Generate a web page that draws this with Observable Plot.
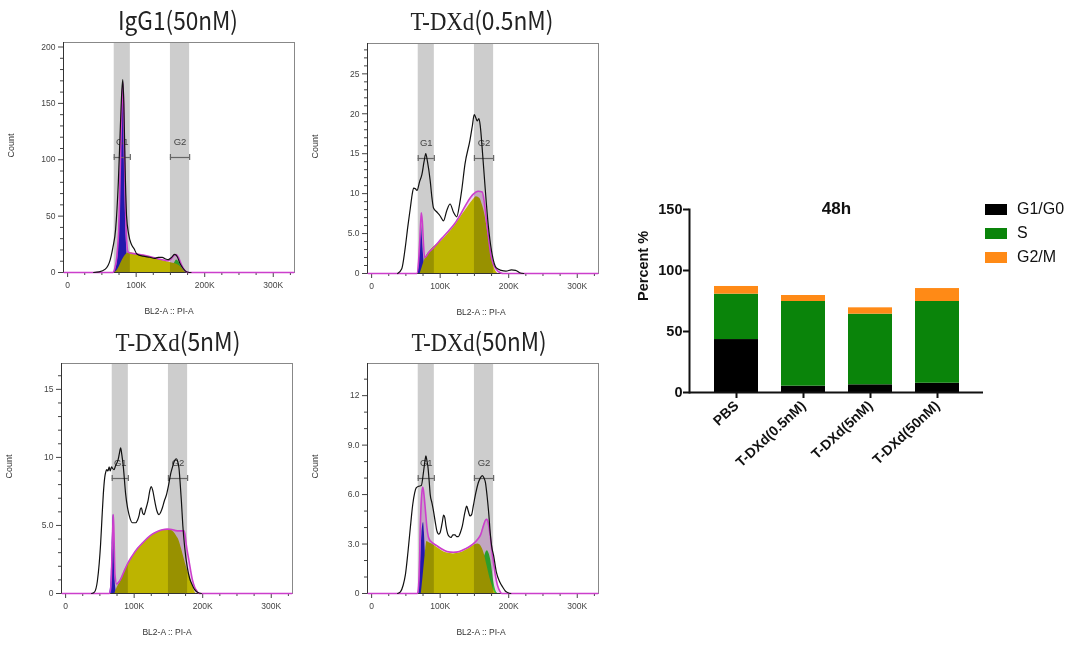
<!DOCTYPE html>
<html><head><meta charset="utf-8">
<script src="https://cdn.jsdelivr.net/npm/d3@7"></script>
<script src="https://cdn.jsdelivr.net/npm/@observablehq/plot@0.6"></script>
<style>
body{margin:0;background:#fff;}
#root{position:relative;width:1080px;height:646px;overflow:hidden;background:#fff;}
#root > svg, #root > div{position:absolute;}
.leg{font-family:'Liberation Sans',Arial,sans-serif;font-size:16px;color:#111;display:flex;align-items:center;height:20px;}
.leg span.sw{display:inline-block;width:22px;height:11px;margin-right:10px;}
</style></head><body><div id="root"></div>
<script>
// ---------------- Histogram data (x in thousands, y = count) ----------------
const xTicksMajor = [0, 100, 200, 300];
const xTickLabels = ["0", "100K", "200K", "300K"];
const xTicksMinor = [25, 50, 75, 125, 150, 175, 225, 250, 275, 325];
const gateNames = ["G1", "G2"];
const gateLo = [68, 150];
const gateHi = [91.5, 178];

// IgG1 (50nM)
const igg1Total = [[38,0],[46,0.5],[55,3],[62,11],[66,22],[70,38],[74,80],[77,130],[79,160],[80.5,171],[82,150],[84,90],[86,50],[89,34],[93,25],[97,21],[101,16.5],[110,14.5],[120,13.5],[127,12.5],[132,13.5],[138,13.5],[143,12],[147,11.5],[151,13],[156,16],[160,14],[164,8],[168,4],[172,1.2],[176,0.2],[180,0]];
const igg1Fit = [[-5,0],[66,0],[69,4],[72,15],[75,45],[77.5,110],[79.5,155],[80.8,168],[82,140],[83.5,85],[85,45],[86.5,25],[88,18.5],[90,17.5],[100,16.5],[110,15.5],[121,14],[133,12],[145,10.5],[150,11.5],[155,15],[158,16],[162,13],[166,7],[170,2.5],[174,0.5],[178,0],[330,0]];
const igg1G1 = [[67,0],[70,3],[73,12],[75,35],[77.5,100],[79.5,150],[80.8,166],[82,135],[83.5,80],[85,40],[87,15],[89,5],[92,0]];
const igg1S = [[69,0],[72,1.5],[76,6],[80,11],[84,15],[88,17.2],[91,17.5],[100,16.5],[110,15.3],[121,13.5],[133,11.5],[145,9.5],[152,8.5],[160,7.2],[165,5],[169,2],[172,0.3],[174,0]];
const igg1G2 = [[146,0],[150,2],[154,6],[157,9.5],[159,11],[162,9.5],[165,6],[168,3],[171,1],[174,0]];

// T-DXd (0.5nM)
const t05Total = [[38,0],[44,0.6],[49,3.2],[53,6],[56.5,8.2],[59,9.8],[61.3,10.7],[64,10.6],[66.2,10.4],[70,11.5],[73.4,12.4],[76.5,14],[79,15],[81.5,14],[85.5,11.6],[88,9.5],[90.3,8.2],[95.2,7.7],[100,7.2],[104.8,6.6],[109.7,7.9],[114.5,8.7],[119.3,7.7],[124.2,7.1],[128,8.5],[131.4,10.4],[136.2,13.7],[143.5,16.7],[147,18.5],[149.7,19.9],[152,19.5],[154,19.1],[156.5,19.4],[158.5,18.5],[160.4,16.7],[165.2,11.2],[170,6.2],[175,2.8],[182,0.7],[189,0.4],[196,0.3],[204,0.45],[210,0.4],[216,0.1],[222,0]];
const t05Fit = [[-5,0],[66,0],[68.5,1.5],[70.5,4.5],[72.5,7.6],[74,6.5],[75.5,4],[77.3,2],[80,2.2],[83,2.6],[90,3.2],[102.4,4.4],[112,5.3],[121.7,6.3],[131,7.6],[141,9.1],[148,9.9],[155.5,10.3],[161.4,10.2],[164.5,8.8],[167.7,6.5],[171,4.2],[174,2.3],[178,1.1],[182.2,0.5],[188,0.1],[192,0],[330,0]];
const t05G1 = [[68,0],[69.5,1.5],[71,3.5],[72.5,6.2],[74,4.5],[75.8,2.2],[78,0.6],[80,0]];
const t05S = [[71,0],[74,0.8],[78.3,1.9],[85,2.8],[92,3.4],[102.4,4.1],[112,5.0],[121.7,6.0],[131,7.2],[141,8.4],[148,9.2],[153,9.6],[158,9.4],[161.5,8.6],[165.2,7.4],[170,4.9],[174,2.7],[177.3,1.2],[181,0.3],[184,0]];
const t05G2 = [];

// T-DXd (5nM)
const t5Total = [[38,0],[42,0.1],[46.3,0.9],[49,2.2],[51,3.6],[53,5.5],[55,7.3],[57,8.5],[58.4,8.9],[60,9.1],[61.8,9.0],[63.5,9.3],[65,9.0],[67,9.3],[68.5,9.2],[70.5,9.1],[73,9.4],[76.4,9.8],[78.5,10.3],[80.3,10.7],[82,10.2],[84.2,9.3],[87.6,7.3],[90,6.4],[92.5,5.8],[97.4,5.2],[102.2,5.2],[105,5.4],[107,5.7],[109,6.2],[110.5,6.3],[112.5,5.9],[114.4,5.8],[117,6.2],[120.2,6.8],[123,7.6],[125,7.85],[127,7.6],[130,6.8],[133,6.1],[136.3,5.8],[139,6.0],[141.2,6.3],[144,6.8],[147.4,7.3],[150,7.9],[153.3,8.8],[156,9.3],[158,9.65],[161.6,9.9],[163.5,9.7],[165.4,9.2],[167,8.2],[168.9,6.8],[171,5.0],[173.7,3.4],[177.6,1.9],[181,1.1],[185,0.6],[188,0.3],[192.3,0.1],[198,0]];
const t5Fit = [[-5,0],[64,0],[66,0.5],[67.5,2.5],[69,5.2],[69.6,5.8],[70.5,4.5],[72,1.4],[74.5,0.7],[77,0.8],[80.3,1.05],[85,1.6],[90,2.15],[97,2.75],[104.7,3.3],[112,3.7],[119.3,4.07],[126,4.35],[133.9,4.56],[141,4.68],[148.5,4.73],[155,4.7],[160.6,4.62],[166,4.6],[172.7,4.6],[174.5,4.2],[176,3.6],[180,2.4],[185,1.0],[188,0.5],[191.2,0.2],[195,0],[330,0]];
const t5G1 = [[64.5,0],[66.7,1.4],[68,3.5],[69.6,5.8],[70.5,4.2],[71.5,1.9],[73.4,0.3],[75,0]];
const t5S = [[72,0],[75,0.4],[80.3,0.9],[85,1.45],[90,2.0],[97,2.65],[104.7,3.2],[112,3.6],[119.3,4.0],[126,4.3],[133.9,4.5],[141,4.65],[148.5,4.7],[154,4.65],[158,4.5],[162,4.2],[165.4,3.9],[169,3.3],[172.7,2.6],[176,2.0],[180,1.4],[184,0.8],[187.3,0.25],[190,0]];
const t5G2 = [];

// T-DXd (50nM)
const t50Total = [[38,0],[42,0.1],[46,0.5],[49.3,1.14],[53,2.5],[56.5,4.0],[60,5.4],[62.8,6.1],[65,6.4],[68.6,6.5],[72.5,6.55],[75.8,7.4],[78,8.1],[79.2,8.35],[80.5,8.1],[82.1,7.7],[84,6.8],[85.5,6.0],[88,5.5],[90.3,5.0],[93,4.3],[95.2,3.8],[98,3.6],[100,3.7],[103,4.3],[105,4.75],[106.8,4.6],[108.5,4.1],[111.1,3.6],[113.5,3.45],[115.9,3.4],[118.5,3.55],[121.7,3.55],[124,3.45],[126.6,3.45],[129.5,3.7],[132.4,4.1],[136,4.9],[138.7,5.3],[141,5.0],[143.5,4.7],[146,4.8],[148.3,5.3],[152,6.1],[155.5,6.7],[158.5,7.0],[161.4,7.15],[164,7.0],[166.2,6.7],[168.5,5.9],[171,4.8],[173,3.7],[175,2.9],[178,2.3],[182,1.3],[187,0.7],[191.8,0.35],[195,0.15],[199,0.05],[203,0]];
const t50Fit = [[-5,0],[67,0],[68.6,0.5],[70,2],[71,4.0],[72.5,5.6],[74.4,6.45],[75.5,6.3],[77.3,5.6],[79,4.8],[80.7,4.0],[82.5,3.5],[84,3.3],[88,3.1],[95,2.9],[102.4,2.7],[110,2.55],[119.3,2.5],[128,2.55],[136.2,2.7],[143,2.85],[150.7,3.1],[155,3.3],[159.4,3.6],[163,4.1],[166.2,4.45],[168,4.5],[170,4.3],[172,3.8],[173.9,3.2],[176,2.4],[178.7,1.6],[181,1.0],[183.6,0.5],[187,0.15],[190,0],[330,0]];
const t50G1 = [[69,0],[71,1.5],[73.4,3.6],[75.8,4.3],[77,3.7],[78.3,2.5],[80.7,0.9],[82.5,0.3],[84,0]];
const t50S = [[72.5,0],[75,1.0],[77.3,2.0],[79,2.7],[80.7,3.15],[83,3.1],[88,3.0],[95,2.8],[102.4,2.6],[110,2.45],[119.3,2.4],[128,2.45],[136.2,2.6],[143,2.75],[150.7,2.95],[155,3.0],[158,2.95],[160.5,2.8],[162.8,2.6],[165,2.3],[167.7,1.8],[170,1.4],[172.5,0.95],[175,0.6],[178.7,0.15],[181,0]];
const t50G2 = [[150,0],[154,0.4],[158,1.2],[162,1.9],[165.2,2.3],[167.5,2.55],[169,2.6],[171,2.45],[173.9,2.0],[176,1.4],[178.7,0.6],[181,0.2],[184,0]];

// Panel titles and y-axis ticks
const titleSerif = ["", "T-DXd", "T-DXd", "T-DXd"];
const titleSans = ["IgG1(50nM)", "(0.5nM)", "(5nM)", "(50nM)"];
const yMaxes = [204, 28.8, 16.9, 13.95];
const yTicksList = [[0,50,100,150,200],[0,5,10,15,20,25],[0,5,10,15],[0,3,6,9,12]];
const yTickLabelsList = [["0","50","100","150","200"],["0","5.0","10","15","20","25"],["0","5.0","10","15"],["0","3.0","6.0","9.0","12"]];
const yMinorSteps = [10, 1, 1, 1];

// ---------------- Bar chart data ----------------
const categories = ["PBS", "T-DXd(0.5nM)", "T-DXd(5nM)", "T-DXd(50nM)"];
const phases = ["G1/G0", "S", "G2/M"];
const phaseColors = ["#000000", "#0a840a", "#ff8a16"];
const g1g0 = [43.4, 5.2, 6.3, 7.6];
const sPhase = [37.2, 69.4, 57.9, 67.0];
const g2m = [6.3, 4.9, 5.2, 10.6];

// ---------------- Layout ----------------
const root = document.getElementById("root");
const histPos = [[8,32],[312,33],[6,353],[312,353]];
const xLabelShift = [-10, -2, -10, -2];
const histSeries = [
  [igg1Total, igg1Fit, igg1G1, igg1S, igg1G2],
  [t05Total, t05Fit, t05G1, t05S, t05G2],
  [t5Total, t5Fit, t5G1, t5S, t5G2],
  [t50Total, t50Fit, t50G1, t50S, t50G2]
];
const gates = gateNames.map((n, i) => ({name: n, lo: gateLo[i], hi: gateHi[i]}));
const X = d => d[0], Y = d => d[1];
const zero = () => 0;

histSeries.forEach((ser, k) => {
  const [total, fit, g1, s, g2] = ser;
  const yTicks = yTicksList[k];
  const yLabels = yTickLabelsList[k];
  const yMinor = d3.range(0, yMaxes[k], yMinorSteps[k]).filter(v => !yTicks.includes(v));
  const curve = "monotone-x";
  const p = Plot.plot({
    width: 292, height: 288,
    marginLeft: 55, marginRight: 6, marginTop: 10, marginBottom: 48,
    x: {domain: [-6, 331]},
    y: {domain: [0, yMaxes[k]]},
    style: {fontFamily: "'Liberation Sans', Arial, sans-serif", fontSize: "8.5px", color: "#444", background: "transparent", overflow: "visible"},
    marks: [
      Plot.areaY(fit, {x: X, y: Y, fill: "#f2cff2", curve}),
      Plot.areaY(g2, {x: X, y: Y, fill: "#36c336", curve}),
      Plot.areaY(g1, {x: X, y: Y, fill: "#2b1fd6", curve}),
      Plot.areaY(s, {x: X, y: Y, fill: "#bdb400", curve}),
      Plot.rect(gates, {x1: "lo", x2: "hi", fill: "#cdcdcd", mixBlendMode: "multiply"}),
      Plot.frame({stroke: "#888"}),
      Plot.frame({anchor: "left", stroke: "#333"}),
      Plot.ruleY([0], {stroke: "#333"}),
      Plot.axisY({ticks: yTicks, tickFormat: d => yLabels[yTicks.indexOf(d)], tickSize: 5, tickPadding: 3, label: null, stroke: "#444"}),
      Plot.axisY({ticks: yMinor, tickFormat: () => "", tickSize: 3, label: null, stroke: "#444"}),
      Plot.axisX({ticks: xTicksMajor, tickFormat: d => xTickLabels[xTicksMajor.indexOf(d)], tickSize: 5, tickPadding: 4, label: null, stroke: "#444"}),
      Plot.axisX({ticks: xTicksMinor, tickFormat: () => "", tickSize: 3, label: null, stroke: "#444"}),
      Plot.ruleY(gates, {x1: "lo", x2: "hi", y: zero, dy: -115, stroke: "#666", strokeWidth: 1.2}),
      Plot.ruleX(gates, {x: "lo", y1: zero, y2: zero, insetTop: 3, insetBottom: 3, dy: -115, stroke: "#666", strokeWidth: 1.2}),
      Plot.ruleX(gates, {x: "hi", y1: zero, y2: zero, insetTop: 3, insetBottom: 3, dy: -115, stroke: "#666", strokeWidth: 1.2}),
      Plot.text(gates, {x: d => (d.lo + d.hi) / 2, y: zero, text: "name", dy: -131, fontSize: 9.5, fill: "#444"}),
      Plot.lineY(fit, {x: X, y: Y, stroke: "#cc3fcc", strokeWidth: 1.6, curve}),
      Plot.lineY(total, {x: X, y: Y, stroke: "#111", strokeWidth: 1.2, curve}),
      Plot.text(["Count"], {frameAnchor: "left", dx: -52, rotate: -90, fontSize: 9, fill: "#333"}),
      Plot.text(["BL2-A :: PI-A"], {frameAnchor: "bottom", dy: 41, dx: xLabelShift[k], fontSize: 8.5, fill: "#333"})
    ]
  });
  p.style.left = histPos[k][0] + "px";
  p.style.top = histPos[k][1] + "px";
  root.appendChild(p);
});

// Titles (overlay)
const titleCX = [178, 482, 178, 479];
const titleBase = [30, 30, 351, 351];
const titleW = [120, 143, 125, 135];
const ov = d3.select(root).append("svg").attr("width", 1080).attr("height", 646)
  .style("left", "0px").style("top", "0px").style("pointer-events", "none");
titleSans.forEach((t, i) => {
  const tx = ov.append("text").attr("x", titleCX[i]).attr("y", titleBase[i])
    .attr("text-anchor", "middle").attr("font-size", 25).attr("fill", "#222")
    .attr("textLength", titleW[i]).attr("lengthAdjust", "spacingAndGlyphs");
  if (titleSerif[i]) tx.append("tspan").attr("font-family", "'Liberation Serif', 'Times New Roman', serif").text(titleSerif[i]);
  tx.append("tspan").attr("font-family", "'Noto Sans CJK SC', 'Noto Sans', sans-serif").attr("font-weight", 400).text(t);
});

// ---------------- Stacked bar chart ----------------
const phaseValues = [g1g0, sPhase, g2m];
const table = [];
categories.forEach((c, i) => phases.forEach((ph, j) => table.push({cat: c, phase: ph, value: phaseValues[j][i]})));

const bar = Plot.plot({
  width: 460, height: 290,
  marginLeft: 69, marginTop: 29, marginBottom: 78, marginRight: 97,
  x: {domain: categories, paddingInner: 0.35, paddingOuter: 0.36},
  y: {domain: [0, 150]},
  color: {domain: phases, range: phaseColors},
  style: {fontFamily: "'Liberation Sans', Arial, sans-serif", fontWeight: "bold", color: "#111", background: "transparent", overflow: "visible"},
  marks: [
    Plot.barY(table, {x: "cat", y: "value", fill: "phase"}),
    Plot.ruleY([0], {stroke: "#111", strokeWidth: 2}),
    Plot.frame({anchor: "left", stroke: "#111", strokeWidth: 2}),
    Plot.axisY({ticks: [0, 50, 100, 150], tickSize: 6, tickPadding: 1, strokeWidth: 2, fontSize: 14.5, label: null}),
    Plot.axisX({tickSize: 6, strokeWidth: 2, tickRotate: -43, fontSize: 14, label: null, tickPadding: 5}),
    Plot.text(["Percent %"], {frameAnchor: "left", dx: -46, rotate: -90, fontSize: 14.5, fontWeight: "bold"}),
    Plot.text(["48h"], {frameAnchor: "top", dy: -8, fontSize: 17, fontWeight: "bold"})
  ]
});
bar.style.left = "620px";
bar.style.top = "180px";
root.appendChild(bar);

// Legend
const legY = [209, 233, 257];
phases.forEach((ph, i) => {
  const d = document.createElement("div");
  d.className = "leg";
  d.style.left = "985px";
  d.style.top = (legY[i] - 10) + "px";
  d.innerHTML = `<span class="sw" style="background:${phaseColors[i]}"></span>${ph}`;
  root.appendChild(d);
});
</script></body></html>
